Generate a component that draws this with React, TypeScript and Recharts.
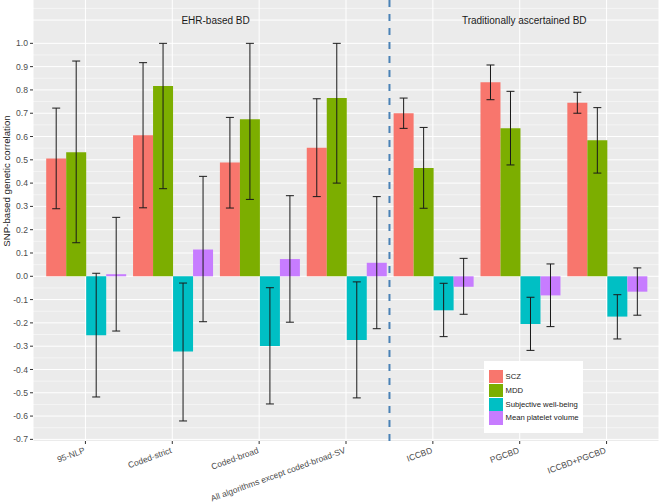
import { BarChart, Bar, XAxis, YAxis, CartesianGrid, ErrorBar, ReferenceLine, ReferenceDot, Legend, Label } from 'recharts'

const categories = ['95-NLP', 'Coded-strict', 'Coded-broad', 'All algorithms except coded-broad-SV', 'ICCBD', 'PGCBD', 'ICCBD+PGCBD']

const scz = [0.506, 0.605, 0.488, 0.552, 0.7, 0.833, 0.745]
const sczLo = [0.29, 0.294, 0.293, 0.342, 0.635, 0.758, 0.7]
const sczHi = [0.722, 0.917, 0.682, 0.762, 0.765, 0.907, 0.79]

const mdd = [0.532, 0.817, 0.674, 0.765, 0.465, 0.636, 0.584]
const mddLo = [0.144, 0.376, 0.33, 0.4, 0.292, 0.478, 0.443]
const mddHi = [0.924, 1.0, 1.0, 1.0, 0.639, 0.794, 0.724]

const swb = [-0.253, -0.323, -0.299, -0.273, -0.146, -0.205, -0.173]
const swbLo = [-0.518, -0.621, -0.548, -0.522, -0.259, -0.318, -0.269]
const swbHi = [0.013, -0.029, -0.049, -0.024, -0.03, -0.09, -0.079]

const mpv = [0.009, 0.115, 0.074, 0.058, -0.045, -0.082, -0.066]
const mpvLo = [-0.235, -0.195, -0.197, -0.225, -0.163, -0.216, -0.167]
const mpvHi = [0.253, 0.429, 0.346, 0.342, 0.077, 0.053, 0.036]

const yTicks = [-0.7, -0.6, -0.5, -0.4, -0.3, -0.2, -0.1, 0, 0.1, 0.2, 0.3, 0.4, 0.5, 0.6, 0.7, 0.8, 0.9, 1.0]
const gridMajor = [...yTicks, 1.1]
const gridMinor = [-0.65, -0.55, -0.45, -0.35, -0.25, -0.15, -0.05, 0.05, 0.15, 0.25, 0.35, 0.45, 0.55, 0.65, 0.75, 0.85, 0.95, 1.05, 1.15]

const series = [
  { key: 'scz', name: 'SCZ', color: '#F8766D' },
  { key: 'mdd', name: 'MDD', color: '#7CAE00' },
  { key: 'swb', name: 'Subjective well-being', color: '#00BFC4' },
  { key: 'mpv', name: 'Mean platelet volume', color: '#C77CFF' },
]

const data = categories.map((name, i) => ({
  name,
  pos: i + 1,
  scz: scz[i], sczErr: [scz[i] - sczLo[i], sczHi[i] - scz[i]],
  mdd: mdd[i], mddErr: [mdd[i] - mddLo[i], mddHi[i] - mdd[i]],
  swb: swb[i], swbErr: [swb[i] - swbLo[i], swbHi[i] - swb[i]],
  mpv: mpv[i], mpvErr: [mpv[i] - mpvLo[i], mpvHi[i] - mpv[i]],
}))

const XTick = ({ x, y, payload }: any) => (
  <text x={x - 2} y={y} transform={`rotate(-20, ${x - 2}, ${y})`} textAnchor="end" dy="0.71em"
    fontSize={8.5} fill="#4D4D4D">{payload.value}</text>
)

const YTitle = () => (
  <text transform="translate(9.5, 181) rotate(-90)" textAnchor="middle" fontSize={9.7} fill="#1A1A1A">
    SNP-based genetic correlation
  </text>
)

const LegendBox = () => (
  <div style={{ background: '#fff', width: 99, height: 72, boxSizing: 'border-box', padding: '9px 0 0 5px' }}>
    {series.map(s => (
      <div key={s.key} style={{ display: 'flex', alignItems: 'center', height: 13.7 }}>
        <span style={{ display: 'inline-block', width: 13.5, height: 13.2, background: s.color, marginRight: 3 }} />
        <span style={{ fontSize: 7.7, color: '#1A1A1A', whiteSpace: 'nowrap' }}>{s.name}</span>
      </div>
    ))}
  </div>
)

export default function App() {
  return (
    <div style={{ position: 'absolute', left: 0, top: 0, fontFamily: '"Liberation Sans", Arial, sans-serif', background: '#fff' }}>
      <BarChart width={659} height={503} data={data} margin={{ top: 0, right: 0, bottom: 0, left: 0 }}
        barCategoryGap={4.2} barGap={0}>
        <CartesianGrid fill="#EBEBEB" stroke="#FFFFFF" strokeWidth={0.5} horizontalValues={gridMinor} vertical={false} />
        <CartesianGrid stroke="#FFFFFF" strokeWidth={1} horizontalValues={gridMajor} />
        <XAxis dataKey="name" height={62} padding={{ left: 9, right: 9 }} axisLine={false}
          tickSize={3} tickMargin={3} tickLine={{ stroke: '#333333' }} tick={<XTick />} interval={0} />
        <XAxis xAxisId="num" dataKey="pos" type="number" domain={[0.4, 7.6]} hide allowDataOverflow />
        <YAxis type="number" domain={[-0.707, 1.186]} ticks={yTicks} width={33} axisLine={false}
          tickSize={3} tickMargin={2} tickLine={{ stroke: '#333333' }} allowDataOverflow
          tick={{ fontSize: 8.6, fill: '#4D4D4D' }} tickFormatter={(v: number) => v.toFixed(1)}>
          <Label content={<YTitle />} />
        </YAxis>
        {series.map(s => (
          <Bar key={s.key} dataKey={s.key} name={s.name} fill={s.color} isAnimationActive={false}>
            <ErrorBar dataKey={s.key + 'Err'} width={4} stroke="#1A1A1A" strokeWidth={1} direction="y" />
          </Bar>
        ))}
        <ReferenceLine xAxisId="num" x={4.5} stroke="#4A82B6" strokeWidth={2} strokeDasharray="7 7" />
        <ReferenceDot xAxisId="num" x={2.5} y={1.1} r={0} fill="none" stroke="none"
          label={{ value: 'EHR-based BD', position: 'center', fontSize: 10, fill: '#1A1A1A' }} />
        <ReferenceDot xAxisId="num" x={6.05} y={1.1} r={0} fill="none" stroke="none"
          label={{ value: 'Traditionally ascertained BD', position: 'center', fontSize: 10, fill: '#1A1A1A' }} />
        <Legend layout="vertical" align="center" verticalAlign="middle" content={<LegendBox />}
          wrapperStyle={{ position: 'absolute', left: 484, top: 361, width: 99, height: 72 }} />
      </BarChart>
    </div>
  )
}
